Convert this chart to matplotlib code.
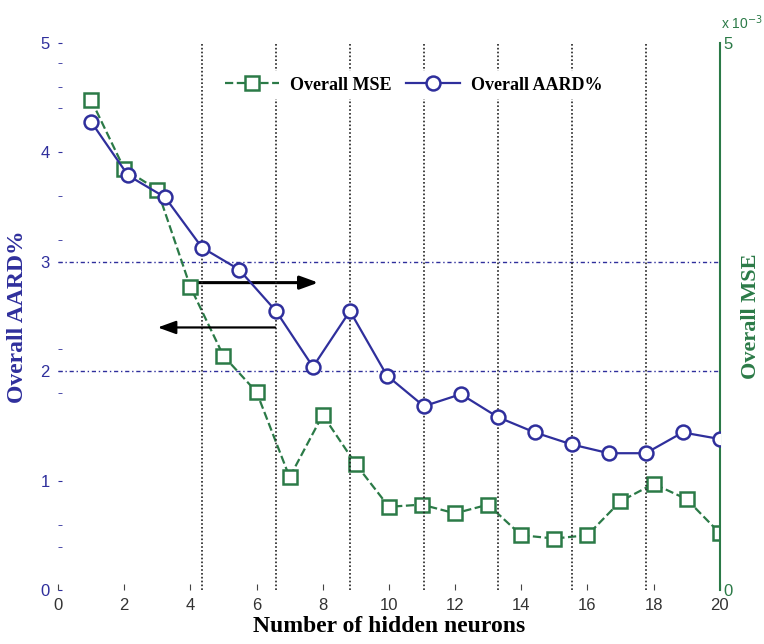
import numpy as np
import matplotlib
matplotlib.use("Agg")
import matplotlib.pyplot as plt

# Data
mse_neurons = [1, 2, 3, 4, 5, 6, 7, 8, 9, 10, 11, 12, 13, 14, 15, 16, 17, 18, 19, 20]
mse_values = [4.48, 3.85, 3.66, 2.77, 2.14, 1.81, 1.03, 1.60, 1.15, 0.76,
              0.78, 0.70, 0.78, 0.50, 0.47, 0.50, 0.81, 0.97, 0.83, 0.52]  # x 1e-3

aard_neurons = [1, 2, 3, 4, 5, 6, 7, 8, 9, 10, 11, 12, 13, 14, 15, 16, 17, 18]
aard_values = [4.28, 3.79, 3.59, 3.13, 2.93, 2.55, 2.04, 2.55, 1.96, 1.68,
               1.79, 1.58, 1.44, 1.33, 1.25, 1.25, 1.44, 1.38]

x_ticks = [0, 2, 4, 6, 8, 10, 12, 14, 16, 18, 20]
y_ticks = [0, 1, 2, 3, 4, 5]
y_minor = [0.39, 0.59, 1.80, 2.20, 3.20, 3.60, 4.41, 4.60, 4.82]
vgrid = [4, 6, 8, 10, 12, 14, 16]   # on the AARD neuron scale
hgrid = [2, 3]

BLUE = "#2f2f9c"
GREEN = "#2b7a47"
SERIF = ["Liberation Serif", "DejaVu Serif"]
SANS = ["Liberation Sans Narrow", "Liberation Sans", "DejaVu Sans"]

fig = plt.figure(figsize=(7.64, 6.44), dpi=100)
ax = fig.add_axes([0.076, 0.084, 0.866, 0.849])
ax.set_xlim(0, 20)
ax.set_ylim(0, 5)
for s in ax.spines.values():
    s.set_visible(False)

ax.set_xticks(x_ticks)
ax.set_xticklabels([str(t) for t in x_ticks], family=SANS, fontsize=12, color="#333333")
ax.tick_params(axis="x", direction="in", length=4, color="#444444", pad=6)
ax.set_yticks(y_ticks)
ax.set_yticklabels([str(t) for t in y_ticks], family=SANS, fontsize=12, color=BLUE)
ax.set_yticks(y_minor, minor=True)
ax.tick_params(axis="y", which="both", direction="in", length=3, color=BLUE,
               left=True, right=True, pad=6)
for y in hgrid:
    ax.axhline(y, color=BLUE, lw=1.0, ls=(0, (3, 2, 1, 2)), zorder=1)

ax.set_xlabel("Number of hidden neurons", family=SERIF, fontweight="bold",
              fontsize=17, labelpad=2)
ax.set_ylabel("Overall AARD%", family=SERIF, fontweight="bold", fontsize=17,
              color=BLUE, labelpad=9)

# MSE on the right axis
ax2 = ax.twinx()
ax2.set_ylim(0, 5)
for k, s in ax2.spines.items():
    s.set_visible(k == "right")
ax2.spines["right"].set_color(GREEN)
ax2.spines["right"].set_linewidth(1.5)
ax2.set_yticks([0, 5])
ax2.set_yticklabels(["0", "5"], family=SANS, fontsize=12, color=GREEN)
ax2.tick_params(axis="y", length=0, pad=3)
ax2.set_ylabel("Overall MSE", family=SERIF, fontweight="bold", fontsize=16,
               color=GREEN, labelpad=6)
mse_line, = ax2.plot(mse_neurons, mse_values, color=GREEN, ls="--", lw=1.6,
                     marker="s", ms=10, mfc="white", mec=GREEN, mew=1.8)

# AARD series sits on its own neuron scale (1..18 spread over the width)
ax3 = ax.twiny()
ax3.set_xlim(1 - 17 / 19, 18)
ax3.set_xticks([])
for s in ax3.spines.values():
    s.set_visible(False)
for x in vgrid:
    ax3.axvline(x, color="#222222", lw=1.2, ls=(0, (1, 1.3)), zorder=1)
aard_line, = ax3.plot(aard_neurons, aard_values, color=BLUE, lw=1.6,
                      marker="o", ms=10, mfc="white", mec=BLUE, mew=1.8, zorder=3)

# arrows pointing to the axis each curve belongs to
ax.annotate("", xy=(7.95, 2.81), xytext=(3.95, 2.81),
            arrowprops=dict(arrowstyle="-|>,head_length=1.1,head_width=0.4",
                            color="black", lw=2.2), zorder=5)
ax3.annotate("", xy=(2.93 * 17 / 19 + 2 / 19, 2.40), xytext=(6.05, 2.40),
             arrowprops=dict(arrowstyle="-|>,head_length=1.1,head_width=0.4",
                             color="black", lw=1.6), zorder=5)

leg = ax3.legend(handles=[mse_line, aard_line], labels=["Overall MSE", "Overall AARD%"],
                 loc="center", bbox_to_anchor=(0.537, 0.923), ncol=2, frameon=True,
                 fancybox=False, framealpha=1, edgecolor="none", facecolor="white",
                 handlelength=3.0, columnspacing=0.8, borderpad=0.3, handletextpad=0.6,
                 prop={"family": SERIF, "weight": "bold", "size": 13})
leg.set_zorder(10)

fig.text(0.944, 0.955, r"x 10$^{-3}$", color=GREEN, family=SANS, fontsize=10)

fig.savefig("out.png", dpi=100)
